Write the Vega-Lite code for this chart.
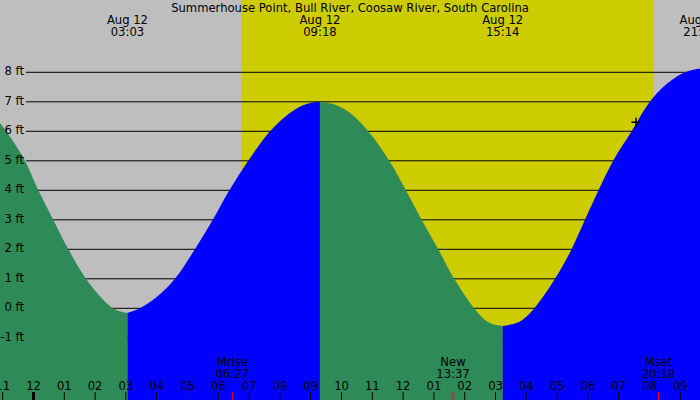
{
  "$schema": "https://vega.github.io/schema/vega-lite/v6.json",
  "width": 700,
  "height": 400,
  "autosize": {"type": "none"},
  "padding": 0,
  "background": "#BEBEBE",
  "datasets": {
    "light": [
      {"start": -1.2, "end": 6.74, "kind": "night"},
      {"start": 6.74, "end": 20.15, "kind": "day"},
      {"start": 20.15, "end": 21.8, "kind": "night"}
    ],
    "levels": [
      {"ft": -1, "label": "-1 ft"}, {"ft": 0, "label": "0 ft"}, {"ft": 1, "label": "1 ft"},
      {"ft": 2, "label": "2 ft"}, {"ft": 3, "label": "3 ft"}, {"ft": 4, "label": "4 ft"},
      {"ft": 5, "label": "5 ft"}, {"ft": 6, "label": "6 ft"}, {"ft": 7, "label": "7 ft"},
      {"ft": 8, "label": "8 ft"}
    ],
    "tide": [
      {"h": -1.2, "ft": 6.42, "seg": "a"}, {"h": -1.088, "ft": 6.28, "seg": "a"},
      {"h": -0.7, "ft": 5.72, "seg": "a"}, {"h": -0.276, "ft": 5.0, "seg": "a"},
      {"h": 0.156, "ft": 4.0, "seg": "a"}, {"h": 0.643, "ft": 3.0, "seg": "a"},
      {"h": 1.13, "ft": 2.0, "seg": "a"}, {"h": 1.705, "ft": 1.0, "seg": "a"},
      {"h": 2.2, "ft": 0.36, "seg": "a"}, {"h": 2.58, "ft": 0.0, "seg": "a"},
      {"h": 2.85, "ft": -0.12, "seg": "a"}, {"h": 3.05, "ft": -0.16, "seg": "a"},
      {"h": 3.05, "ft": -0.16, "seg": "b"}, {"h": 3.45, "ft": 0.0, "seg": "b"},
      {"h": 4.0, "ft": 0.38, "seg": "b"}, {"h": 4.59, "ft": 1.0, "seg": "b"},
      {"h": 5.24, "ft": 2.0, "seg": "b"}, {"h": 5.82, "ft": 3.0, "seg": "b"},
      {"h": 6.36, "ft": 4.0, "seg": "b"}, {"h": 6.97, "ft": 5.0, "seg": "b"},
      {"h": 7.68, "ft": 6.0, "seg": "b"}, {"h": 8.3, "ft": 6.6, "seg": "b"},
      {"h": 8.75, "ft": 6.88, "seg": "b"}, {"h": 9.03, "ft": 6.97, "seg": "b"},
      {"h": 9.3, "ft": 7.0, "seg": "b"},
      {"h": 9.3, "ft": 7.0, "seg": "c"}, {"h": 9.8, "ft": 6.9, "seg": "c"},
      {"h": 10.3, "ft": 6.6, "seg": "c"}, {"h": 10.87, "ft": 6.0, "seg": "c"},
      {"h": 11.55, "ft": 5.0, "seg": "c"}, {"h": 12.09, "ft": 4.0, "seg": "c"},
      {"h": 12.6, "ft": 3.0, "seg": "c"}, {"h": 13.14, "ft": 2.0, "seg": "c"},
      {"h": 13.66, "ft": 1.0, "seg": "c"}, {"h": 14.31, "ft": 0.0, "seg": "c"},
      {"h": 14.68, "ft": -0.41, "seg": "c"}, {"h": 15.0, "ft": -0.56, "seg": "c"},
      {"h": 15.23, "ft": -0.6, "seg": "c"},
      {"h": 15.23, "ft": -0.6, "seg": "d"}, {"h": 15.5, "ft": -0.55, "seg": "d"},
      {"h": 15.85, "ft": -0.41, "seg": "d"}, {"h": 16.26, "ft": 0.0, "seg": "d"},
      {"h": 16.93, "ft": 1.0, "seg": "d"}, {"h": 17.42, "ft": 1.9, "seg": "d"},
      {"h": 18.1, "ft": 3.45, "seg": "d"}, {"h": 18.82, "ft": 5.0, "seg": "d"},
      {"h": 19.42, "ft": 6.0, "seg": "d"}, {"h": 20.01, "ft": 7.0, "seg": "d"},
      {"h": 20.5, "ft": 7.55, "seg": "d"}, {"h": 21.15, "ft": 8.0, "seg": "d"},
      {"h": 21.6, "ft": 8.12, "seg": "d"}, {"h": 21.8, "ft": 8.12, "seg": "d"}
    ],
    "hours": [
      {"h": -1, "label": "11"}, {"h": 0, "label": "12"}, {"h": 1, "label": "01"},
      {"h": 2, "label": "02"}, {"h": 3, "label": "03"}, {"h": 4, "label": "04"},
      {"h": 5, "label": "05"}, {"h": 6, "label": "06"}, {"h": 7, "label": "07"},
      {"h": 8, "label": "08"}, {"h": 9, "label": "09"}, {"h": 10, "label": "10"},
      {"h": 11, "label": "11"}, {"h": 12, "label": "12"}, {"h": 13, "label": "01"},
      {"h": 14, "label": "02"}, {"h": 15, "label": "03"}, {"h": 16, "label": "04"},
      {"h": 17, "label": "05"}, {"h": 18, "label": "06"}, {"h": 19, "label": "07"},
      {"h": 20, "label": "08"}, {"h": 21, "label": "09"}
    ],
    "moon": [
      {"h": 6.455, "lines": ["Mrise", "06:27"]},
      {"h": 13.62, "lines": ["New", "13:37"]},
      {"h": 20.29, "lines": ["Mset", "20:18"]}
    ],
    "extremes": [
      {"h": 3.05, "lines": ["Aug 12", "03:03"]},
      {"h": 9.3, "lines": ["Aug 12", "09:18"]},
      {"h": 15.233, "lines": ["Aug 12", "15:14"]},
      {"h": 21.64, "lines": ["Aug 12", "21:38"]}
    ],
    "place": [
      {"name": "Summerhouse Point, Bull River, Coosaw River, South Carolina"}
    ],
    "now": [
      {"h": 19.56, "ft": 6.31}
    ]
  },
  "config": {
    "view": {"stroke": null}
  },
  "layer": [
    {
      "data": {"name": "light"},
      "mark": {"type": "rect"},
      "encoding": {
        "x": {"field": "start", "type": "quantitative", "scale": {"domain": [-1.0877, 21.6396], "nice": false, "zero": false}, "axis": null},
        "x2": {"field": "end"},
        "y": {"datum": 10.8, "type": "quantitative", "scale": {"domain": [-3.108, 10.451], "nice": false, "zero": false}, "axis": null},
        "y2": {"datum": -3.4},
        "color": {"field": "kind", "type": "nominal", "scale": {"domain": ["night", "day"], "range": ["#BEBEBE", "#CCCC00"]}, "legend": null}
      }
    },
    {
      "data": {"name": "levels"},
      "mark": {"type": "rule", "color": "#000000", "strokeWidth": 1},
      "encoding": {
        "x": {"datum": -0.2435, "type": "quantitative"},
        "x2": {"datum": 21.8},
        "y": {"field": "ft", "type": "quantitative"}
      }
    },
    {
      "data": {"name": "tide"},
      "mark": {"type": "area", "interpolate": "catmull-rom", "clip": true},
      "encoding": {
        "x": {"field": "h", "type": "quantitative"},
        "y": {"field": "ft", "type": "quantitative"},
        "y2": {"datum": -3.4},
        "detail": {"field": "seg"},
        "fill": {"field": "seg", "type": "nominal", "scale": {"domain": ["a", "b", "c", "d"], "range": ["#2E8B57", "#0000FF", "#2E8B57", "#0000FF"]}, "legend": null}
      }
    },
    {
      "data": {"name": "levels"},
      "mark": {"type": "text", "align": "right", "baseline": "middle", "font": "DejaVu Sans", "fontSize": 11.6, "color": "#000000"},
      "encoding": {
        "x": {"datum": -0.308, "type": "quantitative"},
        "y": {"field": "ft", "type": "quantitative"},
        "text": {"field": "label"}
      }
    },
    {
      "data": {"name": "hours"},
      "mark": {"type": "rule", "color": "#000000"},
      "encoding": {
        "x": {"field": "h", "type": "quantitative"},
        "y": {"datum": -2.84, "type": "quantitative"},
        "y2": {"datum": -3.4},
        "strokeWidth": {"condition": {"test": "datum.h === 0", "value": 3}, "value": 1}
      }
    },
    {
      "data": {"name": "hours"},
      "mark": {"type": "text", "align": "center", "baseline": "alphabetic", "font": "DejaVu Sans", "fontSize": 11.6, "color": "#000000"},
      "encoding": {
        "x": {"field": "h", "type": "quantitative"},
        "y": {"datum": -2.755, "type": "quantitative"},
        "text": {"field": "label"}
      }
    },
    {
      "data": {"name": "moon"},
      "mark": {"type": "rule", "color": "#FF0000", "strokeWidth": 1},
      "encoding": {
        "x": {"field": "h", "type": "quantitative"},
        "y": {"datum": -2.84, "type": "quantitative"},
        "y2": {"datum": -3.4}
      }
    },
    {
      "data": {"name": "moon"},
      "mark": {"type": "text", "align": "center", "baseline": "alphabetic", "lineHeight": 12, "font": "DejaVu Sans", "fontSize": 11.6, "color": "#000000"},
      "encoding": {
        "x": {"field": "h", "type": "quantitative"},
        "y": {"datum": -1.966, "type": "quantitative"},
        "text": {"field": "lines"}
      }
    },
    {
      "data": {"name": "extremes"},
      "mark": {"type": "text", "align": "center", "baseline": "alphabetic", "lineHeight": 12, "font": "DejaVu Sans", "fontSize": 11.6, "color": "#000000"},
      "encoding": {
        "x": {"field": "h", "type": "quantitative"},
        "y": {"datum": 9.64, "type": "quantitative"},
        "text": {"field": "lines"}
      }
    },
    {
      "data": {"name": "place"},
      "mark": {"type": "text", "align": "center", "baseline": "alphabetic", "font": "DejaVu Sans", "fontSize": 11.6, "color": "#000000"},
      "encoding": {
        "x": {"datum": 10.276, "type": "quantitative"},
        "y": {"datum": 10.047, "type": "quantitative"},
        "text": {"field": "name"}
      }
    },
    {
      "data": {"name": "now"},
      "mark": {"type": "point", "shape": "M-1,0L1,0M0,-1L0,1", "size": 81, "stroke": "#000000", "strokeWidth": 1.5, "filled": false, "opacity": 1},
      "encoding": {
        "x": {"field": "h", "type": "quantitative"},
        "y": {"field": "ft", "type": "quantitative"}
      }
    }
  ]
}
